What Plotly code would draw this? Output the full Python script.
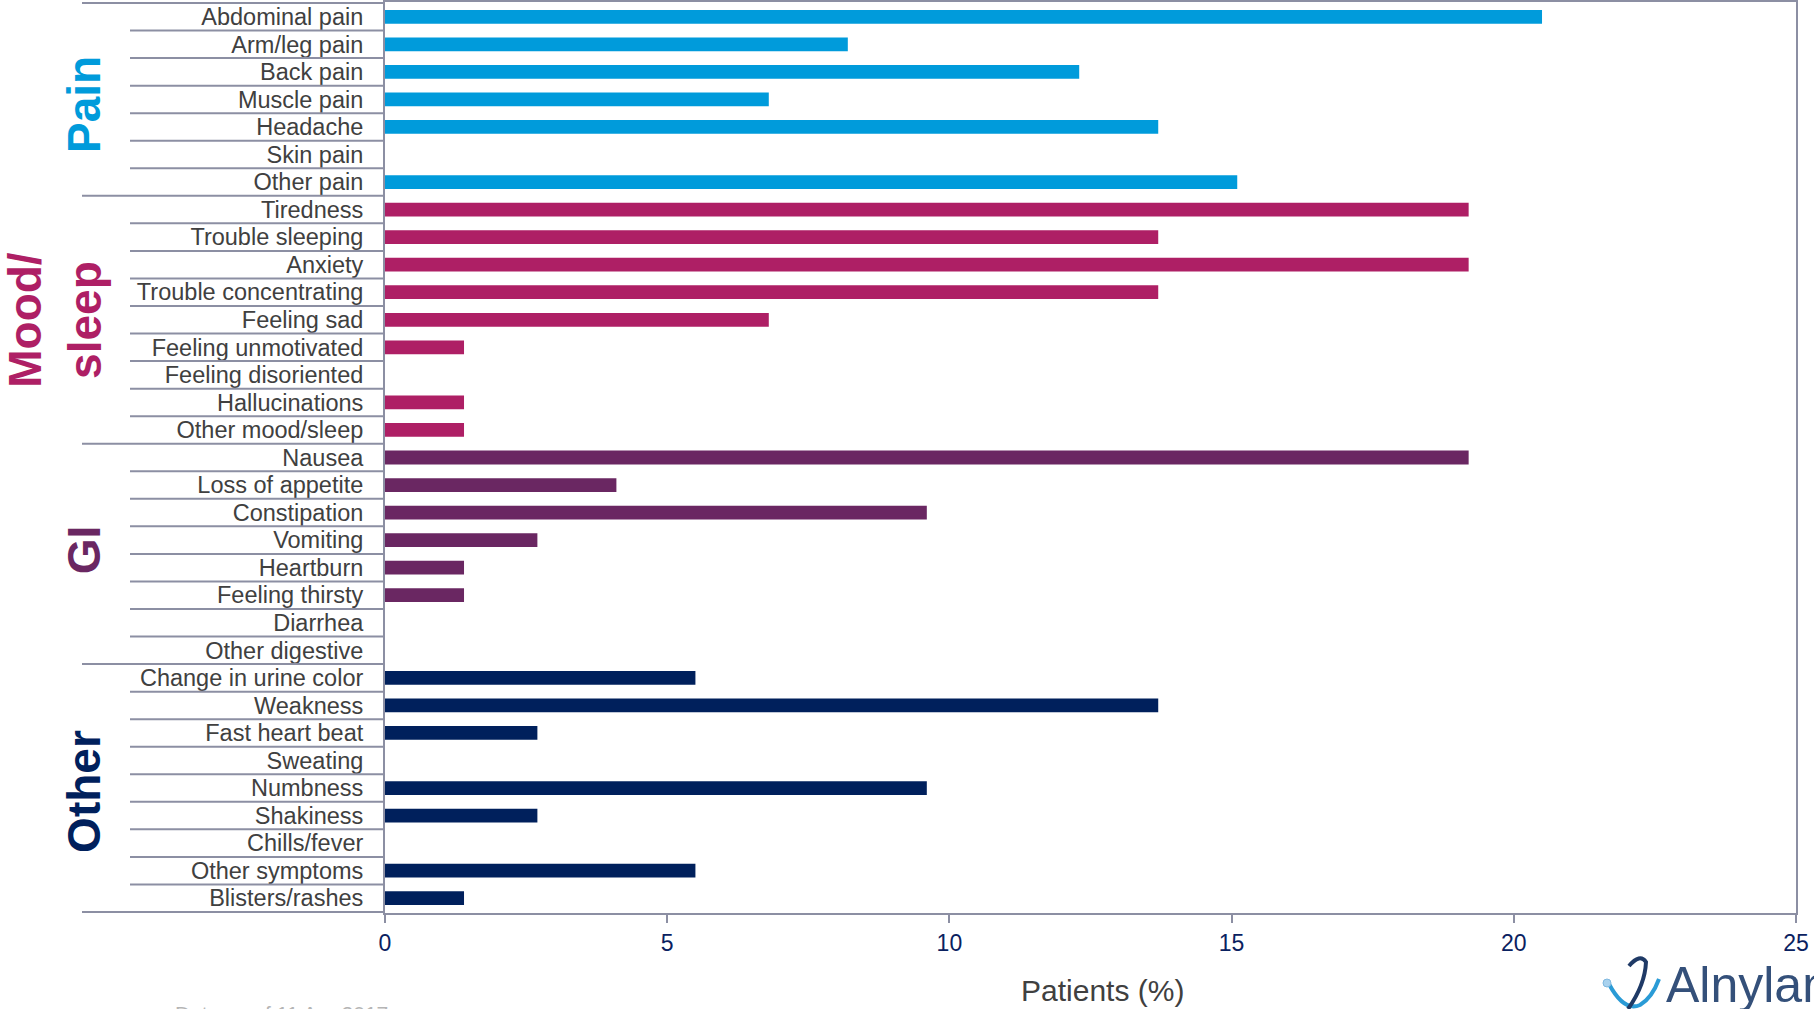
import plotly.graph_objects as go

# ---- data ----
pain_labels = ["Abdominal pain", "Arm/leg pain", "Back pain", "Muscle pain", "Headache", "Skin pain", "Other pain"]
pain_values = [20.5, 8.2, 12.3, 6.8, 13.7, 0, 15.1]

mood_labels = ["Tiredness", "Trouble sleeping", "Anxiety", "Trouble concentrating", "Feeling sad",
               "Feeling unmotivated", "Feeling disoriented", "Hallucinations", "Other mood/sleep"]
mood_values = [19.2, 13.7, 19.2, 13.7, 6.8, 1.4, 0, 1.4, 1.4]

gi_labels = ["Nausea", "Loss of appetite", "Constipation", "Vomiting", "Heartburn",
             "Feeling thirsty", "Diarrhea", "Other digestive"]
gi_values = [19.2, 4.1, 9.6, 2.7, 1.4, 1.4, 0, 0]

other_labels = ["Change in urine color", "Weakness", "Fast heart beat", "Sweating", "Numbness",
                "Shakiness", "Chills/fever", "Other symptoms", "Blisters/rashes"]
other_values = [5.5, 13.7, 2.7, 0, 9.6, 2.7, 0, 5.5, 1.4]

group_names = ["Pain", "Mood/<br>sleep", "GI", "Other"]
group_colors = ["#009BDB", "#AE1F65", "#6A2762", "#00205C"]
x_ticks = [0, 5, 10, 15, 20, 25]

groups = [(pain_labels, pain_values), (mood_labels, mood_values),
          (gi_labels, gi_values), (other_labels, other_values)]
all_labels = [l for g in groups for l in g[0]]

W, H = 1814, 1009
L, R, T, B = 385, 18, 2, 96
pw, ph = W - L - R, H - T - B

def px_x(px):
    return (px - L) / pw

def px_y(py):
    return (H - B - py) / ph

def pt(x, y):
    return "%.5f,%.5f" % (px_x(x), px_y(y))

FONT = "Arial, Liberation Sans, sans-serif"

fig = go.Figure()
for (labels, values), color in zip(groups, group_colors):
    fig.add_trace(go.Bar(y=labels, x=values, orientation="h", marker_color=color,
                         marker_line_width=0, showlegend=False, hoverinfo="skip"))

sep = "#8C8FA3"
shapes = []
n = len(all_labels)
group_bounds = []
acc = 0
for labels, _ in groups:
    acc += len(labels)
    group_bounds.append(acc)
for b in range(0, n + 1):
    yb = b - 0.5
    is_group = b == 0 or b in group_bounds
    x0 = px_x(82) if is_group else px_x(130)
    shapes.append(dict(type="line", xref="paper", yref="y", x0=x0, x1=0, y0=yb, y1=yb,
                       line=dict(color=sep, width=2)))

# small logo decoration (bottom right)
shapes.append(dict(type="path", xref="paper", yref="paper",
                   path="M %s Q %s %s" % (pt(1609, 984), pt(1624, 1012), pt(1640, 1005)) +
                        " Q %s %s" % (pt(1652, 998), pt(1659, 979)),
                   line=dict(color="#2A9BD6", width=4)))
shapes.append(dict(type="path", xref="paper", yref="paper",
                   path="M %s Q %s %s Q %s %s" % (pt(1629, 966), pt(1640, 953), pt(1646, 962),
                                                   pt(1645, 985), pt(1628, 1009)),
                   line=dict(color="#1F3A66", width=4)))
shapes.append(dict(type="circle", xref="paper", yref="paper",
                   x0=px_x(1603), x1=px_x(1611), y0=px_y(979), y1=px_y(987),
                   fillcolor="#A9D2EE", line=dict(color="#7FB8E0", width=1)))

annotations = []
starts = [0] + group_bounds[:-1]
y_offsets = [0.2, 0.0, -0.13, 0.14]
for name, color, s, e, dy in zip(group_names, group_colors, starts, group_bounds, y_offsets):
    center = (s + e - 1) / 2 + dy
    xpx = 55 if "<br>" in name else 84
    annotations.append(dict(text="<b>%s</b>" % name, xref="paper", yref="y", x=px_x(xpx), y=center,
                            textangle=-90, showarrow=False, xanchor="center", yanchor="middle",
                            font=dict(family=FONT, size=46, color=color)))

annotations.append(dict(text="Patients (%)", xref="paper", yref="paper", x=px_x(1102), y=px_y(990),
                        showarrow=False, xanchor="center", yanchor="middle",
                        font=dict(family=FONT, size=30, color="#404040")))
annotations.append(dict(text="Data as of 11 Apr 2017", xref="paper", yref="paper", x=px_x(173), y=px_y(1000),
                        showarrow=False, xanchor="left", yanchor="top",
                        font=dict(family=FONT, size=21, color="#B5B5B5")))
annotations.append(dict(text="Alnylam", xref="paper", yref="paper", x=px_x(1664), y=px_y(955),
                        showarrow=False, xanchor="left", yanchor="top",
                        font=dict(family=FONT, size=50, color="#34507A")))

fig.update_layout(
    width=W, height=H,
    margin=dict(l=L, r=R, t=T, b=B),
    paper_bgcolor="white", plot_bgcolor="white",
    bargap=0.5,
    shapes=shapes, annotations=annotations,
    font=dict(family=FONT),
)
fig.update_yaxes(categoryorder="array", categoryarray=all_labels, autorange="reversed",
                 tickmode="array", tickvals=all_labels, ticktext=all_labels, automargin=False,
                 showgrid=False, showline=True, linecolor=sep, linewidth=2, mirror=True,
                 ticks="", ticklabelstandoff=15,
                 tickfont=dict(family=FONT, size=23.5, color="#404040"), zeroline=False)
fig.update_xaxes(range=[0, 25], tickvals=x_ticks, showgrid=False, zeroline=False, automargin=False,
                 showline=True, linecolor=sep, linewidth=2, mirror=True,
                 ticks="outside", ticklen=8, tickwidth=2, tickcolor=sep,
                 tickfont=dict(family=FONT, size=23, color="#0A2160"))

fig.write_html("out.html", config={"displayModeBar": False},
               post_script="document.body.style.margin='0';document.body.style.overflow='hidden';")
